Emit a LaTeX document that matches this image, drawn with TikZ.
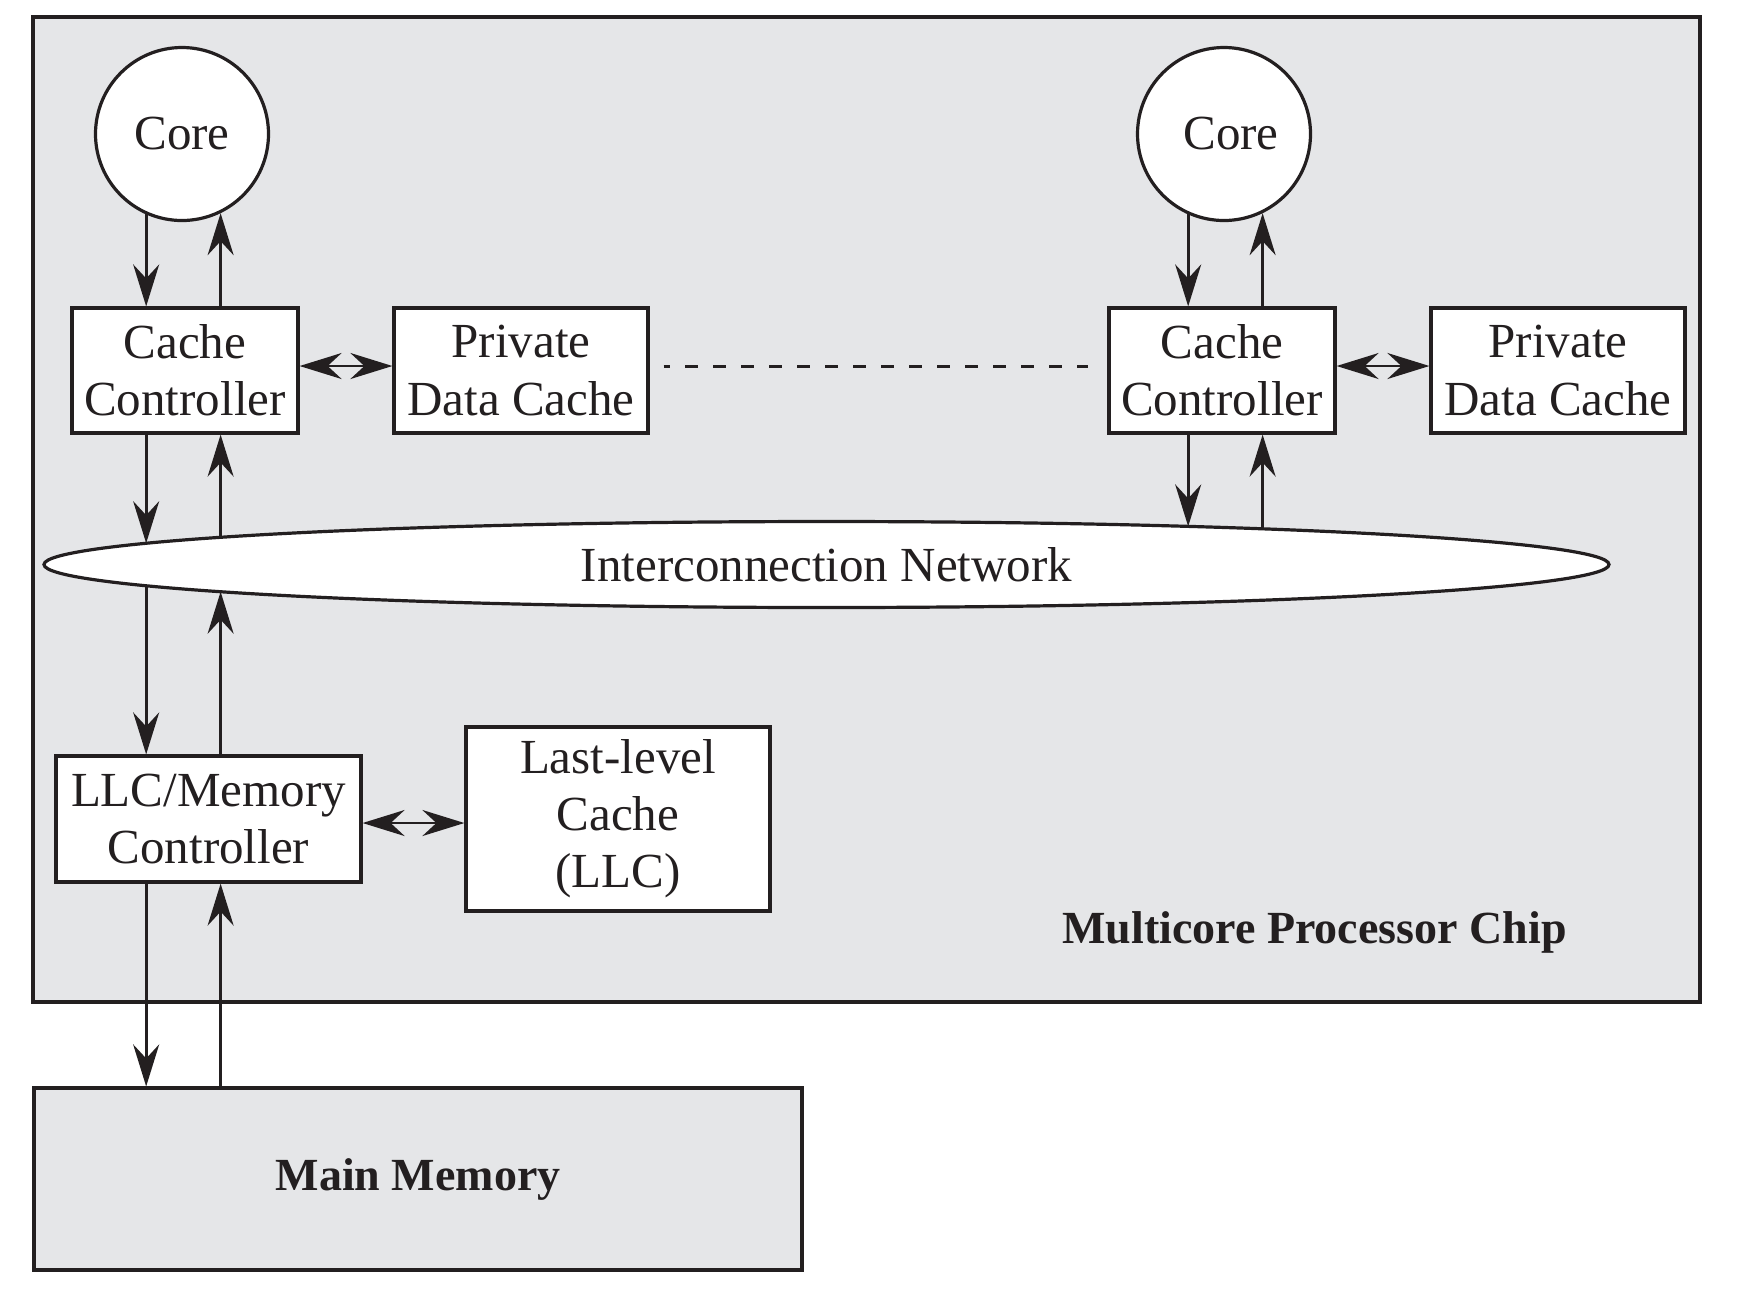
\documentclass[tikz,border=0pt]{standalone}
\usepackage{fontspec}
\setmainfont{Liberation Serif}
\usetikzlibrary{arrows.meta,shapes.geometric,calc}
\definecolor{chipgray}{HTML}{E5E6E8}
\definecolor{ink}{HTML}{231F20}
\begin{document}
\begin{tikzpicture}[x=0.5pt,y=-0.5pt,
  every node/.style={font=\fontsize{24.5}{28.5}\selectfont, text=ink},
  box/.style={draw=ink, line width=1.6pt, fill=white, inner sep=0pt, align=center},
  corenode/.style={circle, draw=ink, line width=1.6pt, fill=white, inner sep=0pt, minimum size=86.5pt},
  biglabel/.style={font=\fontsize{23}{27}\selectfont\bfseries},
  flow/.style={draw=ink, line width=1.4pt, -{Stealth[length=21pt,width=13pt,inset=7pt]}},
  twoway/.style={draw=ink, line width=1.4pt, {Stealth[length=21pt,width=13pt,inset=7pt]}-{Stealth[length=21pt,width=13pt,inset=7pt]}},
  dots/.style={draw=ink, line width=1.5pt, dash pattern=on 6.5pt off 7.5pt, dash phase=3.25pt},
]
\useasboundingbox (0,0) rectangle (1738,1298);
\fill[white] (0,0) rectangle (1738,1298);

% chip background
\node[draw=ink, line width=1.6pt, fill=chipgray, minimum width=833.5pt, minimum height=492.5pt, inner sep=0pt] (chip) at (866.5,509.5) {};

% main memory
\node[draw=ink, line width=1.6pt, fill=chipgray, minimum width=384pt, minimum height=91pt, inner sep=0pt, biglabel] (mem) at (418,1179) {Main Memory};

% cores
\node[corenode] (core1) at (182,134) {Core};
\node[corenode] (core2) at (1224,134) {\hspace*{7pt}Core};

% cache controllers and private caches
\node[box, minimum width=113pt, minimum height=62.5pt] (cc1) at (185,370.5) {Cache\\Controller};
\node[box, minimum width=127pt, minimum height=62.5pt] (pdc1) at (521,370.5) {Private\\Data Cache};
\node[box, minimum width=113pt, minimum height=62.5pt] (cc2) at (1222,370.5) {Cache\\Controller};
\node[box, minimum width=127pt, minimum height=62.5pt] (pdc2) at (1558,370.5) {Private\\Data Cache};

% interconnection network
\node[ellipse, draw=ink, line width=1.6pt, fill=white, inner sep=0pt, minimum width=782.5pt, minimum height=43pt] (net) at (826.5,564.5) {Interconnection Network};

% points on the network border where the connectors meet it
\coordinate (netTL1) at ($(net.center)+(-679.5,-21.3)$);
\coordinate (netTL2) at ($(net.center)+(-606.5,-27.2)$);
\coordinate (netBL1) at ($(net.center)+(-679.5,21.3)$);
\coordinate (netBL2) at ($(net.center)+(-606.5,27.2)$);
\coordinate (netTR1) at ($(net.center)+(362.5,-38.1)$);
\coordinate (netTR2) at ($(net.center)+(436,-35.7)$);

% LLC
\node[box, minimum width=152.5pt, minimum height=63pt] (llcmc) at (208.5,819) {LLC/Memory\\Controller};
\node[box, minimum width=152pt, minimum height=92pt] (llc) at (618,819) {Last-level\\Cache\\(LLC)};

% chip label
\node[biglabel, anchor=base] (chiplabel) at (1314.5,943) {Multicore Processor Chip};

% core <-> cache controller
\draw[flow] (core1.-114) -- (core1.-114 |- cc1.north);
\draw[flow] (core1.-64 |- cc1.north) -- (core1.-64);
\draw[flow] (core2.-114) -- (core2.-114 |- cc2.north);
\draw[flow] (core2.-64 |- cc2.north) -- (core2.-64);

% cache controller <-> private cache
\draw[twoway] ([yshift=2.25pt]cc1.east) -- ([yshift=2.25pt]pdc1.west);
\draw[twoway] ([yshift=2.25pt]cc2.east) -- ([yshift=2.25pt]pdc2.west);

% dashed continuation
\draw[dots, shorten <=7pt, shorten >=9.5pt] ([yshift=2.25pt]pdc1.east) -- ([yshift=2.25pt]cc2.west);

% cache controllers <-> network
\draw[flow] (core1.-114 |- cc1.south) -- (core1.-114 |- netTL1);
\draw[flow] (core1.-64 |- netTL2) -- (core1.-64 |- cc1.south);
\draw[flow] (core2.-114 |- cc2.south) -- (core2.-114 |- netTR1);
\draw[flow] (core2.-64 |- netTR2) -- (core2.-64 |- cc2.south);

% network <-> LLC/memory controller
\draw[flow] (core1.-114 |- netBL1) -- (core1.-114 |- llcmc.north);
\draw[flow] (core1.-64 |- llcmc.north) -- (core1.-64 |- netBL2);

% LLC controller <-> LLC
\draw[twoway] ([yshift=-2pt]llcmc.east) -- ([yshift=-2pt]llc.west);

% LLC controller <-> main memory
\draw[flow] (core1.-114 |- llcmc.south) -- (core1.-114 |- mem.north);
\draw[flow] (core1.-64 |- mem.north) -- (core1.-64 |- llcmc.south);
\end{tikzpicture}
\end{document}
